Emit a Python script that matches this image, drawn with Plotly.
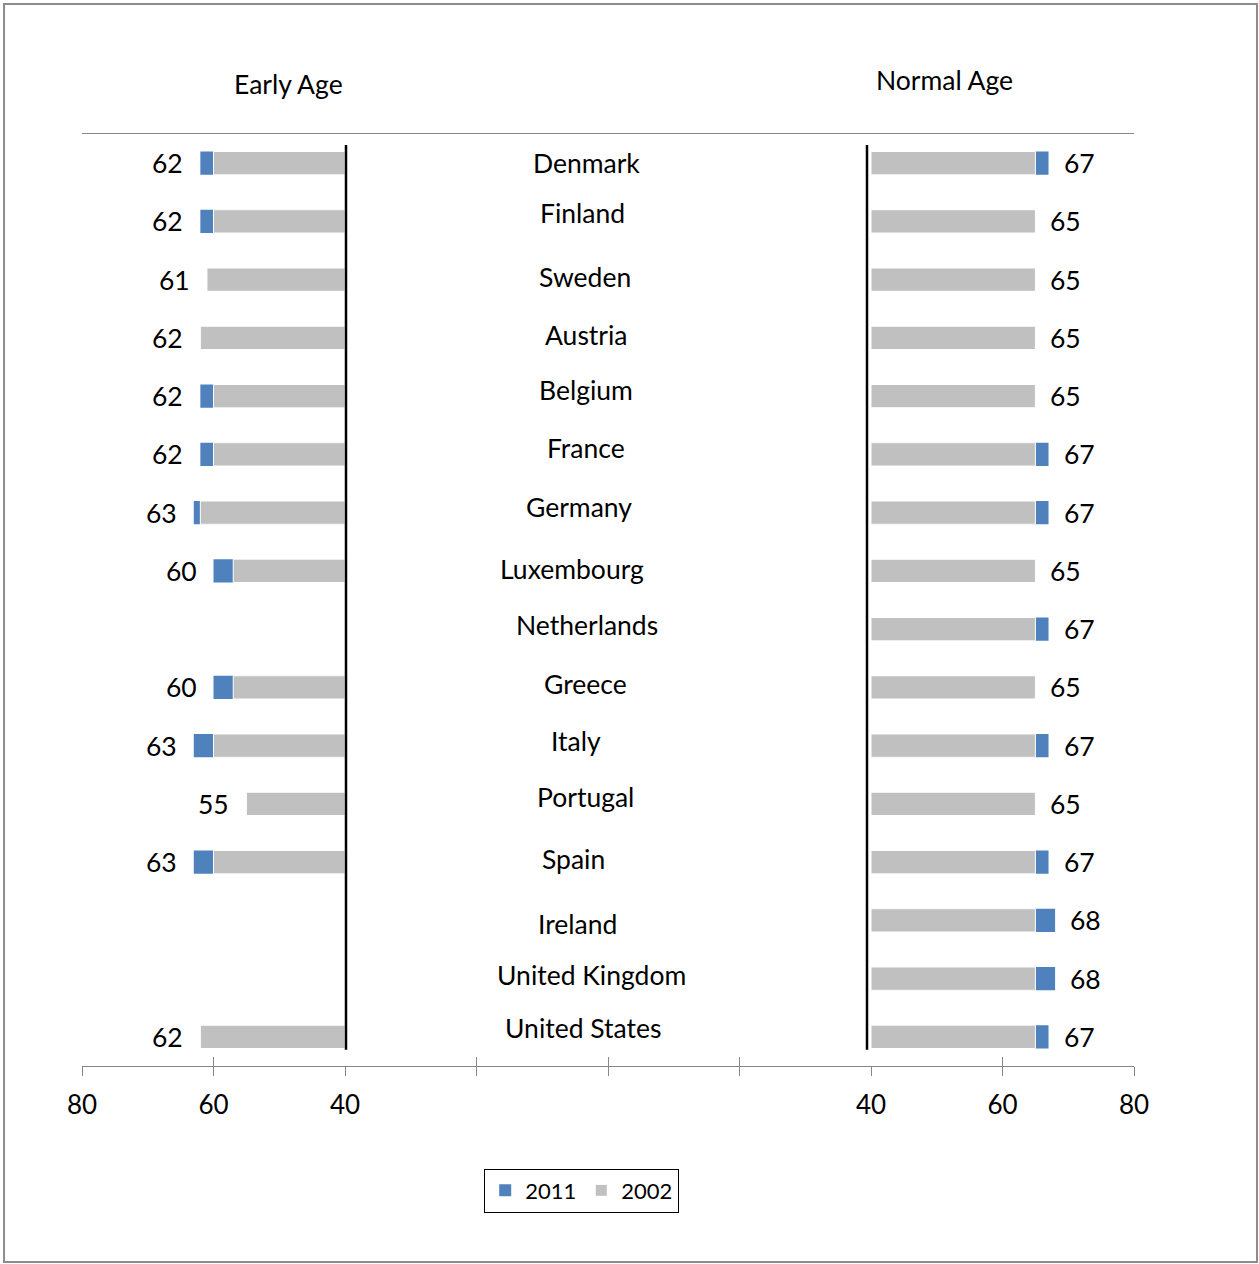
import plotly.graph_objects as go

countries = ["Denmark", "Finland", "Sweden", "Austria", "Belgium", "France", "Germany",
             "Luxembourg", "Netherlands", "Greece", "Italy", "Portugal", "Spain",
             "Ireland", "United Kingdom", "United States"]
early_2002 = [60, 60, 61, 62, 60, 60, 62, 57, None, 57, 60, 55, 60, None, None, 62]
early_2011 = [62, 62, None, None, 62, 62, 63, 60, None, 60, 63, None, 63, None, None, None]
normal_2002 = [65, 65, 65, 65, 65, 65, 65, 65, 65, 65, 65, 65, 65, 65, 65, 65]
normal_2011 = [67, None, None, None, None, 67, 67, None, 67, None, 67, None, 67, 68, 68, 67]
left_ticks = [80, 60, 40]
right_ticks = [40, 60, 80]
BASE = 40

# label nudges (pixels) for the country names
label_dx = [3, -1, 2, 3, 3, 3, -4, -11, 4, 2, -7, 2, -10, -6, 8, 0]
label_dy = [0, 8, 3, 3, 6, 6, 6, 2, 4, 3, 5, 7, 3, -4, 4, 9]

BLUE = "#4F81BD"
GREY = "#C0C0C0"
AXC = "#868686"
FONT = "Lato"
FS = 26.5


def seg(vals):
    return [None if v is None else v - BASE for v in vals]


fig = go.Figure()
fig.add_trace(go.Bar(y=countries, x=seg(early_2011), base=BASE, orientation="h",
                     marker=dict(color=BLUE, line=dict(width=0)), width=0.4,
                     name="2011", xaxis="x", yaxis="y", legendgroup="2011"))
fig.add_trace(go.Bar(y=countries, x=seg(early_2002), base=BASE, orientation="h",
                     marker=dict(color=GREY, line=dict(width=1, color="white")), width=0.4,
                     name="2002", xaxis="x", yaxis="y", legendgroup="2002"))
fig.add_trace(go.Bar(y=countries, x=seg(normal_2011), base=BASE, orientation="h",
                     marker=dict(color=BLUE, line=dict(width=0)), width=0.4,
                     name="2011", xaxis="x2", yaxis="y", legendgroup="2011", showlegend=False))
fig.add_trace(go.Bar(y=countries, x=seg(normal_2002), base=BASE, orientation="h",
                     marker=dict(color=GREY, line=dict(width=1, color="white")), width=0.4,
                     name="2002", xaxis="x2", yaxis="y", legendgroup="2002", showlegend=False))
# empty traces so the middle and overlay axes get drawn
for ax in ["x3", "x4", "x5", "x6"]:
    fig.add_trace(go.Scatter(x=[], y=[], xaxis=ax, yaxis="y", showlegend=False, hoverinfo="skip"))

common = dict(showgrid=False, zeroline=False, showline=True, linecolor=AXC, linewidth=1,
              tickcolor=AXC, ticklen=9, tickwidth=1, mirror=True, ticklabelstandoff=7,
              tickfont=dict(family=FONT, size=26, color="black"), anchor="y")
inside = dict(showticklabels=False, showline=False, showgrid=False, zeroline=False,
              tickcolor=AXC, ticklen=9, tickwidth=1, ticks="inside", anchor="y")
fig.update_layout(
    width=1259, height=1264,
    margin=dict(l=82, r=125, t=134, b=198),
    paper_bgcolor="white", plot_bgcolor="white",
    barmode="overlay",
    font=dict(family=FONT, size=FS, color="black"),
    xaxis=dict(domain=[0, 0.25], range=[80, 40], tickvals=left_ticks, ticks="outside", **common),
    xaxis2=dict(domain=[0.75, 1], range=[40, 80], tickvals=right_ticks, ticks="outside", **common),
    xaxis3=dict(domain=[0.25, 0.75], range=[0, 4], tickvals=[1, 2, 3], ticks="outside",
                showticklabels=False, **common),
    xaxis4=dict(overlaying="x", range=[80, 40], tickvals=left_ticks, **inside),
    xaxis5=dict(overlaying="x2", range=[40, 80], tickvals=right_ticks, **inside),
    xaxis6=dict(overlaying="x3", range=[0, 4], tickvals=[1, 2, 3], **inside),
    yaxis=dict(type="category", categoryorder="array", categoryarray=countries,
               range=[15.5, -0.5], showticklabels=False, showgrid=False, zeroline=False,
               showline=False, ticks=""),
    legend=dict(orientation="h", x=0.475, xanchor="center", y=-0.11, yanchor="top",
                bordercolor="black", borderwidth=1, font=dict(family=FONT, size=22, color="black"),
                itemwidth=30, traceorder="normal"),
    showlegend=True,
)

# vertical black lines
fig.add_shape(type="line", xref="paper", yref="y", x0=(346 - 82) / 1052, x1=(346 - 82) / 1052,
              y0=-0.31, y1=15.22, line=dict(color="black", width=2.5))
fig.add_shape(type="line", xref="paper", yref="y", x0=(867 - 82) / 1052, x1=(867 - 82) / 1052,
              y0=-0.31, y1=15.22, line=dict(color="black", width=2.5))
# outer border
fig.add_shape(type="rect", xref="paper", yref="paper", x0=-0.0741, x1=1.1169, y0=-0.2103, y1=1.1395,
              line=dict(color="#8C8C8C", width=2), layer="below")

# titles
fig.add_annotation(text="Early Age", xref="paper", yref="paper", x=(288 - 82) / 1052,
                   y=(1066 - 84) / 932, xanchor="center", yanchor="middle", showarrow=False,
                   font=dict(family=FONT, size=FS))
fig.add_annotation(text="Normal Age", xref="paper", yref="paper", x=(944 - 82) / 1052,
                   y=(1066 - 80) / 932, xanchor="center", yanchor="middle", showarrow=False,
                   font=dict(family=FONT, size=FS))

# country names
for i, c in enumerate(countries):
    fig.add_annotation(text=c, xref="x3", yref="y", x=1.81, y=c, showarrow=False,
                       xanchor="center", yanchor="middle",
                       xshift=label_dx[i], yshift=label_dy[i], font=dict(family=FONT, size=FS))

# value labels
for i, c in enumerate(countries):
    vals = [v for v in (early_2002[i], early_2011[i]) if v is not None]
    if vals:
        v = max(vals)
        fig.add_annotation(text=str(v), xref="x", yref="y", x=v, y=c, showarrow=False,
                           xanchor="right", xshift=-15, font=dict(family=FONT, size=FS))
    vals = [v for v in (normal_2002[i], normal_2011[i]) if v is not None]
    if vals:
        v = max(vals)
        fig.add_annotation(text=str(v), xref="x2", yref="y", x=v, y=c, showarrow=False,
                           xanchor="left", xshift=13, font=dict(family=FONT, size=FS))

fig.write_html("out.html")
